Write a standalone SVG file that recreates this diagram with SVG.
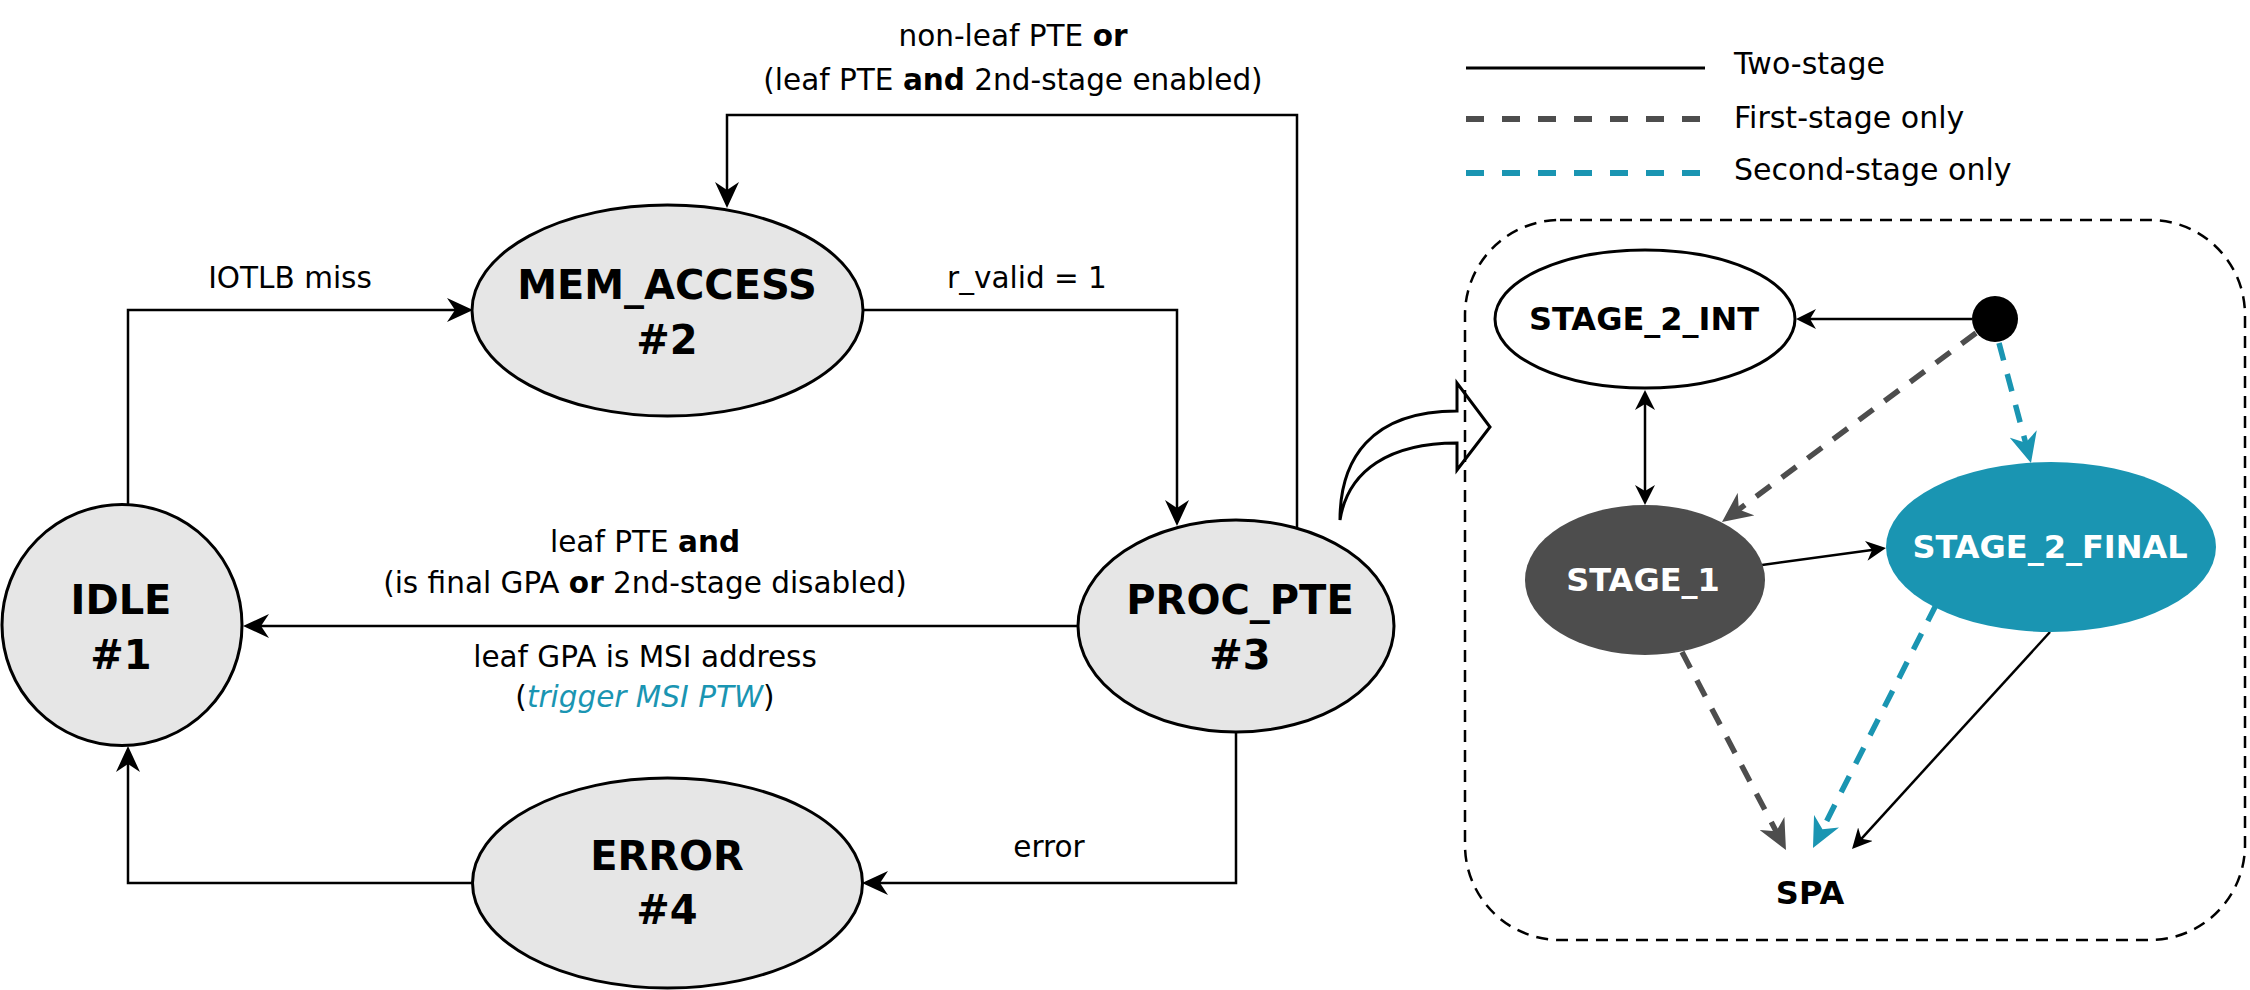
<svg xmlns="http://www.w3.org/2000/svg" width="2250" height="990" viewBox="0 0 2250 990">
<style>
text{font-family:"DejaVu Sans","Liberation Sans",sans-serif;fill:#000}
.lbl{font-size:29.5px;text-anchor:middle}
.leg{font-size:30px}
.big{font-size:40px;font-weight:bold;text-anchor:middle}
.mid{font-size:32px;font-weight:bold;text-anchor:middle}
.st{fill:#e6e6e6;stroke:#000;stroke-width:3}
.c{fill:none;stroke:#000;stroke-width:2.5}
.cg{fill:none;stroke:#4d4d4d;stroke-width:5.5;stroke-dasharray:18 14}
.cb{fill:none;stroke:#1a95b2;stroke-width:5.5;stroke-dasharray:18 14}
.w{fill:#fff}
.tl{fill:#1a95b2;font-style:italic}
</style>
<defs>
<marker id="aL" viewBox="0 0 26 24" refX="20" refY="12" markerWidth="26" markerHeight="24" markerUnits="userSpaceOnUse" orient="auto-start-reverse"><path d="M0,0 L26,12 L0,24 L8,12 Z" fill="#000"/></marker>
<marker id="aS" viewBox="0 0 20 20" refX="15" refY="10" markerWidth="20" markerHeight="20" markerUnits="userSpaceOnUse" orient="auto-start-reverse"><path d="M0,0 L20,10 L0,20 L6,10 Z" fill="#000"/></marker>
<marker id="aG" viewBox="0 0 30 28" refX="20" refY="14" markerWidth="30" markerHeight="28" markerUnits="userSpaceOnUse" orient="auto"><path d="M0,0 L30,14 L0,28 L9,14 Z" fill="#4d4d4d"/></marker>
<marker id="aB" viewBox="0 0 30 28" refX="20" refY="14" markerWidth="30" markerHeight="28" markerUnits="userSpaceOnUse" orient="auto"><path d="M0,0 L30,14 L0,28 L9,14 Z" fill="#1a95b2"/></marker>
</defs>

<g id="legend">
<line x1="1466" y1="68" x2="1705" y2="68" stroke="#000" stroke-width="3"/>
<line x1="1466" y1="119" x2="1702" y2="119" stroke="#4d4d4d" stroke-width="6" stroke-dasharray="18 18"/>
<line x1="1466" y1="173" x2="1702" y2="173" stroke="#1a95b2" stroke-width="6" stroke-dasharray="18 18"/>
<text class="leg" x="1734" y="74">Two-stage</text>
<text class="leg" x="1734" y="128">First-stage only</text>
<text class="leg" x="1734" y="180">Second-stage only</text>
</g>

<g id="connectors">
<path class="c" d="M128,505 V310 H467" marker-end="url(#aL)"/>
<path class="c" d="M863,310 H1177 V520" marker-end="url(#aL)"/>
<path class="c" d="M1297,528 V115 H727 V202" marker-end="url(#aL)"/>
<path class="c" d="M1078,626 H249" marker-end="url(#aL)"/>
<path class="c" d="M1236,732 V883 H868" marker-end="url(#aL)"/>
<path class="c" d="M472,883 H128 V752" marker-end="url(#aL)"/>

<path class="c" d="M1972,319 H1801" marker-end="url(#aS)"/>
<path class="c" d="M1645,395 V500" marker-start="url(#aS)" marker-end="url(#aS)"/>
<path class="c" d="M1762,565 L1881,548.7" marker-end="url(#aS)"/>
<path class="c" d="M2050,632 L1855.4,845.3" marker-end="url(#aS)"/>
<path class="cg" d="M1976,333 L1730,516" marker-end="url(#aG)"/>
<path class="cb" d="M1999,343 L2028.4,453.3" marker-end="url(#aB)"/>
<path class="cg" d="M1682,652 L1781.3,841.1" marker-end="url(#aG)"/>
<path class="cb" d="M1936,605 L1817.5,839.1" marker-end="url(#aB)"/>

<text class="lbl" x="290" y="288">IOTLB miss</text>
<text class="lbl" x="1027" y="288">r_valid = 1</text>
<text class="lbl" x="1013" y="46">non-leaf PTE <tspan font-weight="bold">or</tspan></text>
<text class="lbl" x="1013" y="90">(leaf PTE <tspan font-weight="bold">and</tspan> 2nd-stage enabled)</text>
<text class="lbl" x="645" y="552">leaf PTE <tspan font-weight="bold">and</tspan></text>
<text class="lbl" x="645" y="593">(is final GPA <tspan font-weight="bold">or</tspan> 2nd-stage disabled)</text>
<text class="lbl" x="645" y="667">leaf GPA is MSI address</text>
<text class="lbl" x="645" y="707">(<tspan class="tl">trigger MSI PTW</tspan>)</text>
<text class="lbl" x="1049" y="857">error</text>
</g>

<g id="idle">
<ellipse class="st" cx="122" cy="625" rx="120" ry="120.5"/>
<text class="big" x="121" y="614">IDLE</text>
<text class="big" x="121" y="669">#1</text>
</g>
<g id="mem_access">
<ellipse class="st" cx="667.5" cy="310.5" rx="195.5" ry="105.5"/>
<text class="big" x="667" y="299">MEM_ACCESS</text>
<text class="big" x="667" y="354">#2</text>
</g>
<g id="proc_pte">
<ellipse class="st" cx="1236" cy="626" rx="158" ry="106"/>
<text class="big" x="1240" y="614">PROC_PTE</text>
<text class="big" x="1240" y="669">#3</text>
</g>
<g id="error">
<ellipse class="st" cx="667.5" cy="883" rx="195" ry="105"/>
<text class="big" x="667" y="870">ERROR</text>
<text class="big" x="667" y="924">#4</text>
</g>

<g id="zoom-arrow">
<path d="M1340,520 C1340,460 1370,411 1457,411 L1457,383 L1490,427 L1457,470 L1457,443 C1390,443 1348,470 1340,520 Z" fill="#fff" stroke="#000" stroke-width="3" stroke-linejoin="miter"/>
</g>

<g id="container">
<rect x="1465" y="220" width="780" height="720" rx="95" ry="95" fill="none" stroke="#000" stroke-width="2.5" stroke-dasharray="12 8"/>
</g>

<g id="start">
<circle cx="1995" cy="319" r="23" fill="#000"/>
</g>
<g id="stage_2_int">
<ellipse cx="1645" cy="319" rx="150" ry="69" fill="#fff" stroke="#000" stroke-width="3"/>
<text class="mid" x="1644" y="330">STAGE_2_INT</text>
</g>
<g id="stage_1">
<ellipse cx="1645" cy="580" rx="120" ry="75" fill="#4d4d4d"/>
<text class="mid w" x="1643" y="591">STAGE_1</text>
</g>
<g id="stage_2_final">
<ellipse cx="2051" cy="547" rx="165" ry="85" fill="#1a95b2"/>
<text class="mid w" x="2050" y="558">STAGE_2_FINAL</text>
</g>
<g id="spa">
<text class="mid" x="1810" y="904">SPA</text>
</g>
</svg>
